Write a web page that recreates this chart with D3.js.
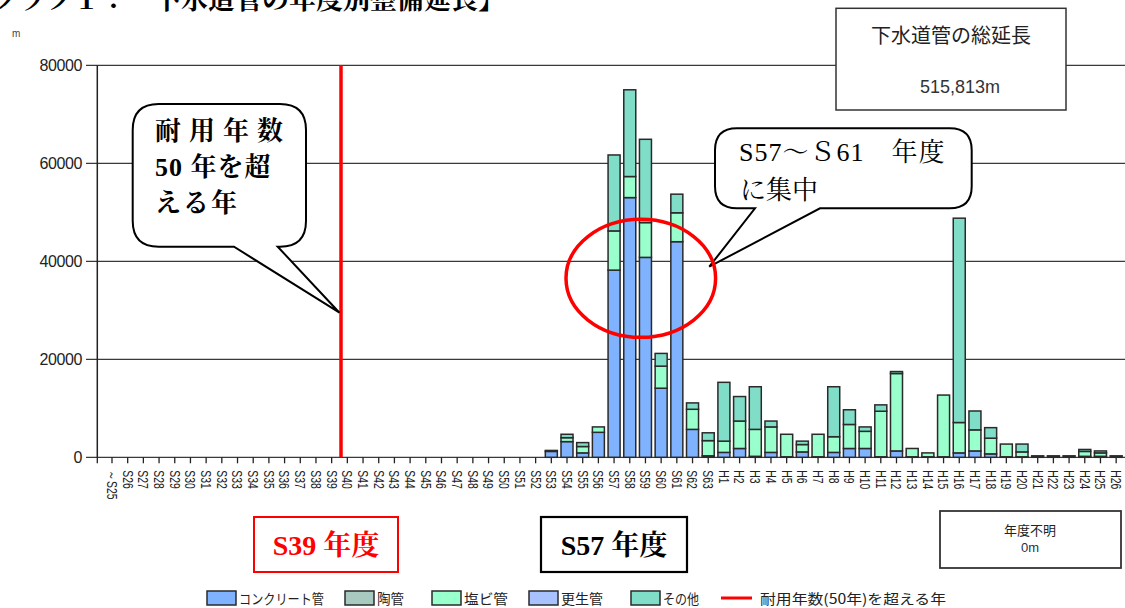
<!DOCTYPE html>
<html><head><meta charset="utf-8">
<script src="https://cdn.jsdelivr.net/npm/d3@7"></script>
<style>body{margin:0;background:#fff}svg{display:block}</style>
</head><body>
<svg id="c" width="1125" height="608"></svg>
<script>
// ---- data ----
const categories = ["～S25","S26","S27","S28","S29","S30","S31","S32","S33","S34","S35","S36","S37","S38","S39","S40","S41","S42","S43","S44","S45","S46","S47","S48","S49","S50","S51","S52","S53","S54","S55","S56","S57","S58","S59","S60","S61","S62","S63","H1","H2","H3","H4","H5","H6","H7","H8","H9","H10","H11","H12","H13","H14","H15","H16","H17","H18","H19","H20","H21","H22","H23","H24","H25","H26"];
// S25..S52 are all zero (28 values), then S53..S63, then H1..H26
const concrete = [0,0,0,0,0,0,0,0,0,0,0,0,0,0,0,0,0,0,0,0,0,0,0,0,0,0,0,0,
  1200,3200,900,5100,38200,53000,40800,14100,44000,5700,300,
  1000,1800,200,1000,100,1100,100,1000,1800,1800,100,1300,100,100,100,900,1300,700,100,100,0,0,0,200,200,0];
const touKan = [0,0,0,0,0,0,0,0,0,0,0,0,0,0,0,0,0,0,0,0,0,0,0,0,0,0,0,0,
  0,0,0,0,0,0,0,0,0,0,0,
  0,0,0,0,0,0,0,0,0,0,0,0,0,0,0,0,0,0,0,0,0,0,0,0,0,0];
const enbi = [0,0,0,0,0,0,0,0,0,0,0,0,0,0,0,0,0,0,0,0,0,0,0,0,0,0,0,0,
  0,800,1300,1100,8000,4300,7100,4500,5900,4100,3100,
  2300,5600,5500,5200,4600,1500,4600,3200,4900,3500,9300,15800,1700,800,12600,6200,4300,3200,2600,1000,300,300,300,1000,700,300];
const kousei = [0,0,0,0,0,0,0,0,0,0,0,0,0,0,0,0,0,0,0,0,0,0,0,0,0,0,0,0,
  0,0,0,0,0,0,0,0,0,0,0,
  0,0,0,0,0,0,0,0,0,0,0,0,0,0,0,0,0,0,0,0,0,0,0,0,0,0];
const sonota = [0,0,0,0,0,0,0,0,0,0,0,0,0,0,0,0,0,0,0,0,0,0,0,0,0,0,0,0,
  200,700,800,0,15500,17700,17000,2600,3800,1300,1600,
  12000,5000,8700,1200,0,700,0,10200,3000,900,1300,400,0,0,0,41700,3850,2150,0,1600,0,0,0,400,400,0];
const seriesKeys = ["concrete","touKan","enbi","kousei","sonota"];
const seriesNames = ["コンクリート管","陶管","塩ビ管","更生管","その他"];
const seriesColors = ["#80b3ff","#a8c9c0","#99ffcc","#a8c2ff","#80ddc8"];
const yTicks = [0,20000,40000,60000,80000];
const limitYear = "S40";           // red line: years exceeding 50-year service life
const totalLabel = "515,813m";
const unknownLabel = "0m";

// ---- setup ----
const svg = d3.select("#c");
svg.append("rect").attr("width",1125).attr("height",608).attr("fill","#fff");
const y = d3.scaleLinear().domain([0,80000]).range([457.3,65.3]);
const step = 15.69;
const x = d3.scaleBand().domain(categories).range([104.15,104.15+categories.length*step]).padding(0);
const xAxisX = 97.3;
const jp = "'Noto Sans CJK JP','Noto Sans',sans-serif";
const serif = "'Liberation Serif','Noto Serif CJK JP','Noto Sans CJK JP',serif";

// title (cut off at top, as in the source document)
svg.append("text").attr("x",505).attr("y",9).attr("text-anchor","end")
  .attr("font-family",serif).attr("font-weight","bold").attr("font-size",27).attr("fill","#000")
  .text("【グラフ１：　下水道管の年度別整備延長】");
svg.append("text").attr("x",12).attr("y",37).attr("font-family","'Liberation Sans',Arial,sans-serif")
  .attr("font-size",10).attr("fill","#444").text("m");

// gridlines
svg.append("g").selectAll("line").data(yTicks).join("line")
  .attr("x1",86).attr("x2",1125).attr("y1",d=>y(d)).attr("y2",d=>y(d))
  .attr("stroke","#3a3a3a").attr("stroke-width",1.3);
// y labels
svg.append("g").selectAll("text").data(yTicks).join("text")
  .attr("x",82).attr("y",d=>y(d)).attr("dy","0.36em").attr("text-anchor","end")
  .attr("font-family","'Liberation Sans',Arial,sans-serif").attr("font-size",16).attr("fill","#222")
  .attr("letter-spacing","-0.4").text(d=>d3.format("d")(d));
// y axis line
svg.append("line").attr("x1",xAxisX).attr("x2",xAxisX).attr("y1",y(0)).attr("y2",y(80000))
  .attr("stroke","#222").attr("stroke-width",1.5);

// x axis
const xAxis = d3.axisBottom(x).tickSize(6).tickSizeOuter(0);
const gx = svg.append("g").attr("transform",`translate(0,${y(0)})`).call(xAxis);
gx.select(".domain").remove();
gx.selectAll(".tick line").attr("stroke","#222").attr("stroke-width",1.3);
gx.selectAll(".tick text")
  .attr("x",0).attr("y",0).attr("dy","0.35em").attr("text-anchor","start")
  .attr("transform","translate(0,13) rotate(90) scale(0.8,1.12)")
  .attr("font-family","'Liberation Sans',Arial,sans-serif").attr("font-size",13).attr("fill","#222");
svg.append("line").attr("x1",xAxisX).attr("x2",xAxisX).attr("y1",y(0)).attr("y2",y(0)+6)
  .attr("stroke","#222").attr("stroke-width",1.3);

// red line
const redX = x(limitYear)+1.5;
svg.append("line").attr("x1",redX).attr("x2",redX).attr("y1",y(80000)).attr("y2",y(0))
  .attr("stroke","#ff0000").attr("stroke-width",3.5);

// bars
const rows = categories.map((c,i)=>({cat:c,concrete:concrete[i],touKan:touKan[i],enbi:enbi[i],kousei:kousei[i],sonota:sonota[i]}));
const stacked = d3.stack().keys(seriesKeys)(rows);
const barW = x.bandwidth()*0.765;
const gb = svg.append("g");
stacked.forEach((layer,li)=>{
  gb.append("g").selectAll("rect").data(layer.filter(d=>d[1]-d[0]>0)).join("rect")
    .attr("x",d=>x(d.data.cat)+(x.bandwidth()-barW)/2)
    .attr("width",barW)
    .attr("y",d=>y(d[1]))
    .attr("height",d=>y(d[0])-y(d[1]))
    .attr("fill",seriesColors[li])
    .attr("stroke","#2a2a2a").attr("stroke-width",1.5);
});

// callout bubbles
function bubble(x0,y0,x1,y1,r,b1,b2,tx,ty){
  return `M${x0+r},${y0}H${x1-r}Q${x1},${y0} ${x1},${y0+r}V${y1-r}Q${x1},${y1} ${x1-r},${y1}`+
    `H${b2}L${tx},${ty}L${b1},${y1}H${x0+r}Q${x0},${y1} ${x0},${y1-r}V${y0+r}Q${x0},${y0} ${x0+r},${y0}Z`;
}
svg.append("path").attr("d",bubble(132.7,104,306,246.7,26,234,277.7,redX-1.5,312.7))
  .attr("fill","#fff").attr("stroke","#000").attr("stroke-width",2);
const lt = svg.append("g").attr("font-family",serif).attr("font-weight","bold").attr("font-size",26).attr("fill","#000");
lt.append("text").attr("x",155).attr("y",140).attr("letter-spacing",8).text("耐用年数");
lt.append("text").attr("x",155).attr("y",176).attr("letter-spacing",1).text("50  年を超");
lt.append("text").attr("x",155).attr("y",212).attr("letter-spacing",2).text("える年");

svg.append("path").attr("d",bubble(715,128.3,971.7,208.3,22,755,820,709.3,266.7))
  .attr("fill","#fff").attr("stroke","#000").attr("stroke-width",2);
const rt = svg.append("g").attr("font-family",serif).attr("font-size",26).attr("fill","#000");
rt.append("text").attr("x",739).attr("y",161).attr("letter-spacing",1).text("S57～Ｓ61　年度");
rt.append("text").attr("x",740).attr("y",199).text("に集中");

// ellipse
svg.append("ellipse").attr("cx",640.8).attr("cy",278.3).attr("rx",74.8).attr("ry",59)
  .attr("fill","none").attr("stroke","#ff0000").attr("stroke-width",3.5);

// total box
svg.append("rect").attr("x",836).attr("y",8.3).attr("width",230).attr("height",101.7)
  .attr("fill","#fff").attr("stroke","#333").attr("stroke-width",1.5);
svg.append("text").attr("x",951).attr("y",43).attr("text-anchor","middle")
  .attr("font-family",jp).attr("font-size",20).attr("fill","#222").text("下水道管の総延長");
svg.append("text").attr("x",960).attr("y",93).attr("text-anchor","middle")
  .attr("font-family","'Liberation Sans',Arial,sans-serif").attr("font-size",18).attr("fill","#333").text(totalLabel);

// year boxes
svg.append("rect").attr("x",254).attr("y",517).attr("width",144).attr("height",55)
  .attr("fill","#fff").attr("stroke","#ff0000").attr("stroke-width",2);
svg.append("text").attr("x",326).attr("y",555).attr("text-anchor","middle")
  .attr("font-family",serif).attr("font-weight","bold").attr("font-size",28).attr("fill","#ff0000").text("S39 年度");
svg.append("rect").attr("x",541).attr("y",517).attr("width",146).attr("height",55)
  .attr("fill","#fff").attr("stroke","#000").attr("stroke-width",2.2);
svg.append("text").attr("x",614).attr("y",555).attr("text-anchor","middle")
  .attr("font-family",serif).attr("font-weight","bold").attr("font-size",28).attr("fill","#000").text("S57 年度");

// unknown-year box
svg.append("rect").attr("x",940).attr("y",511).attr("width",181).attr("height",57)
  .attr("fill","#fff").attr("stroke","#333").attr("stroke-width",1.8);
svg.append("text").attr("x",1030).attr("y",535).attr("text-anchor","middle")
  .attr("font-family",jp).attr("font-size",13).attr("fill","#222").text("年度不明");
svg.append("text").attr("x",1030).attr("y",552).attr("text-anchor","middle")
  .attr("font-family","'Liberation Sans',Arial,sans-serif").attr("font-size",13).attr("fill","#234").text(unknownLabel);

// legend
const legX = [207,345,432,529,631];
const legW = [85,27,44,42,36];
const lg = svg.append("g");
seriesNames.forEach((n,i)=>{
  lg.append("rect").attr("x",legX[i]).attr("y",591).attr("width",29).attr("height",14)
    .attr("fill",seriesColors[i]).attr("stroke","#2a2a2a").attr("stroke-width",1.5);
  lg.append("text").attr("x",legX[i]+32).attr("y",604).attr("font-family",jp).attr("font-size",14)
    .attr("fill","#222").attr("textLength",legW[i]).attr("lengthAdjust","spacingAndGlyphs").text(n);
});
lg.append("line").attr("x1",721).attr("x2",752).attr("y1",598).attr("y2",598)
  .attr("stroke","#ff0000").attr("stroke-width",3);
lg.append("text").attr("x",760).attr("y",604).attr("font-family",jp).attr("font-size",14)
  .attr("fill","#222").attr("textLength",186).attr("lengthAdjust","spacingAndGlyphs").text("耐用年数(50年)を超える年");
</script>
</body></html>
